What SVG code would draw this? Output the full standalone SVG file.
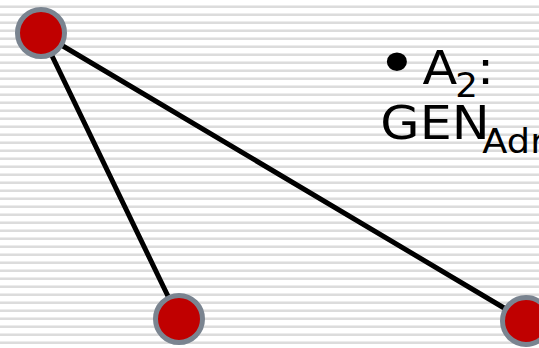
<svg xmlns="http://www.w3.org/2000/svg" width="539" height="348" viewBox="0 0 539 348">
<defs>
<pattern id="stripes" x="0" y="0" width="8" height="8" patternUnits="userSpaceOnUse">
<rect x="0" y="0" width="8" height="8" fill="#ffffff"/>
<rect x="0" y="5" width="8" height="1" fill="#ececec"/>
<rect x="0" y="6" width="8" height="2" fill="#dcdcdc"/>
</pattern>
</defs>
<style>
.edge{stroke:#000;stroke-width:5;fill:none;stroke-linecap:round}
.node{fill:#c00000;stroke:#7a8490;stroke-width:5}
.t{font-family:"DejaVu Sans",sans-serif;fill:#000}
</style>
<rect width="539" height="348" fill="url(#stripes)"/>
<g id="connectors">
<line class="edge" x1="41" y1="33" x2="179" y2="319"/>
<line class="edge" x1="41" y1="33" x2="526" y2="321"/>
</g>
<g id="node1"><circle class="node" cx="41" cy="33" r="23.5"/></g>
<g id="node2"><circle class="node" cx="179" cy="319" r="23.5"/></g>
<g id="node3"><circle class="node" cx="526" cy="321" r="23.5"/></g>
<g id="label" transform="translate(383,0) scale(1.08,1)">
<text class="t" font-size="47" y="84"><tspan x="-6" y="86" font-size="64">•</tspan><tspan x="36.5" y="84">A</tspan><tspan x="67" y="97" font-size="33">2</tspan><tspan x="87" y="84">:</tspan></text>
<text class="t" font-size="47" y="139"><tspan x="-2.5">GEN</tspan><tspan x="92" y="153" font-size="34">Adr</tspan></text>
</g>
</svg>
